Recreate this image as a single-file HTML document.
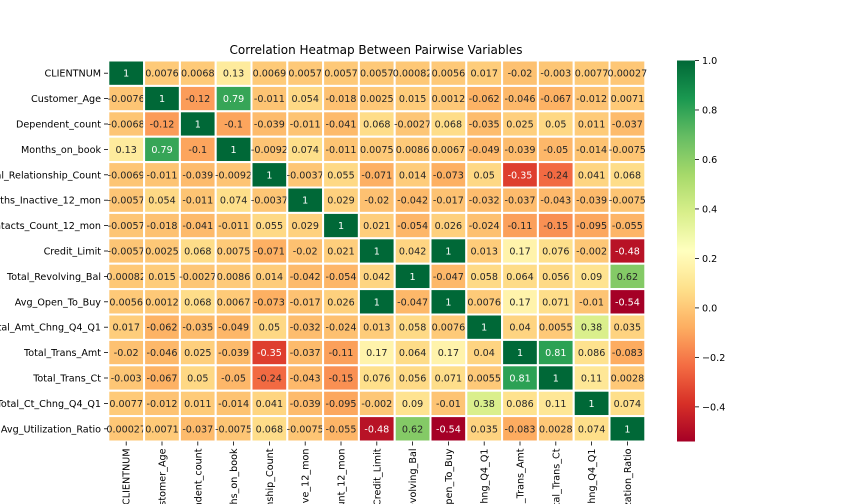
<!DOCTYPE html>
<html><head><meta charset="utf-8">
<style>
html,body{margin:0;padding:0;background:#fff;width:864px;height:504px;overflow:hidden;}
svg{display:block;font-family:"DejaVu Sans","Liberation Sans",sans-serif;overflow:hidden;}
</style></head>
<body>
<svg id="chart" width="864" height="504" viewBox="0 0 864 504">
<defs><clipPath id="frame"><rect x="0" y="0" width="864" height="504"/></clipPath></defs>
<text x="376" y="54" text-anchor="middle" font-size="12" fill="#000">Correlation Heatmap Between Pairwise Variables</text>
<g id="cells"></g>
<g id="ylabels" clip-path="url(#frame)"></g>
<g id="xlabels" clip-path="url(#frame)"></g>
<g id="cbar"></g>
</svg>
<script>
const labels = ["CLIENTNUM","Customer_Age","Dependent_count","Months_on_book","Total_Relationship_Count","Months_Inactive_12_mon","Contacts_Count_12_mon","Credit_Limit","Total_Revolving_Bal","Avg_Open_To_Buy","Total_Amt_Chng_Q4_Q1","Total_Trans_Amt","Total_Trans_Ct","Total_Ct_Chng_Q4_Q1","Avg_Utilization_Ratio"];
const row0 = [1,0.0076,0.0068,0.13,0.0069,0.0057,0.0057,0.0057,0.00082,0.0056,0.017,-0.02,-0.003,0.0077,0.00027];
const row1 = [-0.0076,1,-0.12,0.79,-0.011,0.054,-0.018,0.0025,0.015,0.0012,-0.062,-0.046,-0.067,-0.012,0.0071];
const row2 = [-0.0068,-0.12,1,-0.1,-0.039,-0.011,-0.041,0.068,-0.0027,0.068,-0.035,0.025,0.05,0.011,-0.037];
const row3 = [0.13,0.79,-0.1,1,-0.0092,0.074,-0.011,0.0075,0.0086,0.0067,-0.049,-0.039,-0.05,-0.014,-0.0075];
const row4 = [-0.0069,-0.011,-0.039,-0.0092,1,-0.0037,0.055,-0.071,0.014,-0.073,0.05,-0.35,-0.24,0.041,0.068];
const row5 = [-0.0057,0.054,-0.011,0.074,-0.0037,1,0.029,-0.02,-0.042,-0.017,-0.032,-0.037,-0.043,-0.039,-0.0075];
const row6 = [-0.0057,-0.018,-0.041,-0.011,0.055,0.029,1,0.021,-0.054,0.026,-0.024,-0.11,-0.15,-0.095,-0.055];
const row7 = [-0.0057,0.0025,0.068,0.0075,-0.071,-0.02,0.021,1,0.042,1,0.013,0.17,0.076,-0.002,-0.48];
const row8 = [0.00082,0.015,-0.0027,0.0086,0.014,-0.042,-0.054,0.042,1,-0.047,0.058,0.064,0.056,0.09,0.62];
const row9 = [0.0056,0.0012,0.068,0.0067,-0.073,-0.017,0.026,1,-0.047,1,0.0076,0.17,0.071,-0.01,-0.54];
const row10 = [0.017,-0.062,-0.035,-0.049,0.05,-0.032,-0.024,0.013,0.058,0.0076,1,0.04,0.0055,0.38,0.035];
const row11 = [-0.02,-0.046,0.025,-0.039,-0.35,-0.037,-0.11,0.17,0.064,0.17,0.04,1,0.81,0.086,-0.083];
const row12 = [-0.003,-0.067,0.05,-0.05,-0.24,-0.043,-0.15,0.076,0.056,0.071,0.0055,0.81,1,0.11,0.0028];
const row13 = [0.0077,-0.012,0.011,-0.014,0.041,-0.039,-0.095,-0.002,0.09,-0.01,0.38,0.086,0.11,1,0.074];
const row14 = [0.00027,0.0071,-0.037,-0.0075,0.068,-0.0075,-0.055,-0.48,0.62,-0.54,0.035,-0.083,0.0028,0.074,1];
const matrix = [row0,row1,row2,row3,row4,row5,row6,row7,row8,row9,row10,row11,row12,row13,row14];
const cbarTicks = [1.0,0.8,0.6,0.4,0.2,0.0,-0.2,-0.4];
const vmin = -0.54, vmax = 1;

const NS = "http://www.w3.org/2000/svg";
const X0 = 108.3, Y0 = 60.5, CW = 35.8, CH = 25.4;
const FS = 9.6;
const n = labels.length;
const xPos = i => X0 + i*CW;
const yPos = i => Y0 + i*CH;
const stops = ["#a50026","#d73027","#f46d43","#fdae61","#fee08b","#ffffbf","#d9ef8b","#a6d96a","#66bd63","#1a9850","#006837"];
function hex(h){return [1,3,5].map(k=>parseInt(h.substr(k,2),16));}
function cmap(v){
  let t=(v-vmin)/(vmax-vmin); t=Math.max(0,Math.min(1,t));
  const p=t*(stops.length-1); const i=Math.min(Math.floor(p),stops.length-2); const f=p-i;
  const a=hex(stops[i]), b=hex(stops[i+1]);
  return a.map((x,k)=>Math.round(x+(b[k]-x)*f));
}
function el(tag,attrs,parent){const e=document.createElementNS(NS,tag);for(const k in attrs)e.setAttribute(k,attrs[k]);parent.appendChild(e);return e;}

const cells=document.getElementById('cells');
for(let r=0;r<n;r++){
  for(let c=0;c<n;c++){
    const v=matrix[r][c];
    const col=cmap(v);
    const rect=el('rect',{x:xPos(c),y:yPos(r),width:CW,height:CH,fill:`rgb(${col})`,stroke:'#fff','stroke-width':2},cells);
    
    
    const lum=(0.299*col[0]+0.587*col[1]+0.114*col[2])/255;
    const t=el('text',{x:xPos(c)+CW/2,y:yPos(r)+CH/2+3.5,'text-anchor':'middle','font-size':FS,fill:lum<0.5?'#fff':'#262626'},cells);
    
    
    t.textContent=String(v);
  }
}
const yl=document.getElementById('ylabels');
for(let r=0;r<n;r++){
  const t=el('text',{x:101,y:yPos(r)+CH/2+3.5,'text-anchor':'end','font-size':FS,fill:'#000'},yl);
  
  
  t.textContent=labels[r];
  const tk=el('line',{x1:104,x2:108,y1:yPos(r)+CH/2,y2:yPos(r)+CH/2,stroke:'#000','stroke-width':0.8},yl);
  
  
}
const xl=document.getElementById('xlabels');
const yb=Y0+n*CH;
for(let c=0;c<n;c++){
  const cx=xPos(c)+CW/2;
  const tk=el('line',{x1:cx,x2:cx,y1:yb,y2:yb+4,stroke:'#000','stroke-width':0.8},xl);
  
  
  const t=el('text',{x:0,y:0,'text-anchor':'end','font-size':FS,fill:'#000',transform:`translate(${cx+3.5},${yb+7}) rotate(-90)`},xl);
  
  
  t.textContent=labels[c];
}
const cb=document.getElementById('cbar');
const CBX=677, CBW=18, CBT=Y0, CBB=yb;
const cy=v=>CBT+(vmax-v)/(vmax-vmin)*(CBB-CBT);
const defs=el('defs',{},cb);
const grad=el('linearGradient',{id:'g',x1:0,y1:1,x2:0,y2:0},defs);
for(let i=0;i<=40;i++){const v=vmin+(vmax-vmin)*i/40;el('stop',{offset:i/40,'stop-color':`rgb(${cmap(v)})`},grad);}
const bar=el('rect',{x:CBX,y:CBT,width:CBW,height:CBB-CBT,fill:'url(#g)'},cb);


for(const v of cbarTicks){
  const y=cy(v);
  const tk=el('line',{x1:CBX+CBW,x2:CBX+CBW+4,y1:y,y2:y,stroke:'#000','stroke-width':0.8},cb);
  
  
  const t=el('text',{x:CBX+CBW+7,y:y+3.5,'font-size':FS,fill:'#000'},cb);
  
  
  t.textContent=(v<0?'\u2212':'')+Math.abs(v).toFixed(1);
}
</script>
</body></html>
